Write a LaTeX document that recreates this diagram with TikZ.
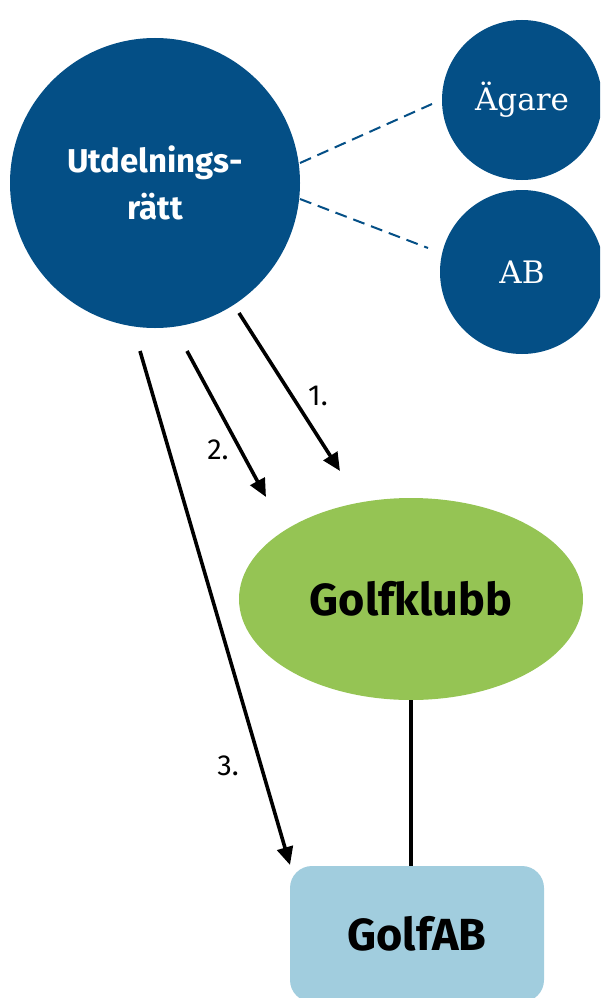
\documentclass[tikz,border=0pt]{standalone}
\usepackage{fontspec}
\setmainfont{Fira Sans}
\newfontfamily\slab{DejaVu Serif}
\usetikzlibrary{arrows.meta,shapes.geometric}
\definecolor{dblue}{RGB}{4,79,134}
\definecolor{lgreen}{RGB}{149,196,84}
\definecolor{lblue}{RGB}{161,205,222}
\tikzset{
  bigcirc/.style={circle,fill=dblue,draw=none,minimum size=290pt,inner sep=0pt,text=white},
  smallcirc/.style={circle,fill=dblue,draw=none,inner sep=0pt,text=white,font=\slab\fontsize{31}{34}\selectfont},
  dashlink/.style={draw=dblue,line width=2pt,dash pattern=on 12pt off 7pt},
  arrowlink/.style={draw=black,line width=3.6pt,-{Triangle[length=18pt,width=16pt]}},
  plainlink/.style={draw=black,line width=3.6pt},
  numlabel/.style={font=\fontsize{29}{32}\selectfont,inner sep=0pt},
  boldtext/.style={font=\bfseries\fontsize{45}{50}\selectfont}
}
\begin{document}
\begin{tikzpicture}[x=1pt,y=-1pt]
\useasboundingbox (0,0) rectangle (600,998);
\clip (0,0) rectangle (600,998);
\node[bigcirc,align=center,font=\bfseries\fontsize{33}{47}\selectfont] (U) at (155,183) {Utdelnings-\\rätt};
\node[smallcirc,minimum size=160pt] (A) at (522,100) {Ägare};
\node[smallcirc,minimum size=164pt] (B) at (522,272) {AB};
\node[ellipse,fill=lgreen,draw=none,minimum width=344pt,minimum height=202pt,inner sep=0pt,boldtext] (G) at (411,599) {Golfklubb};
\node[rectangle,rounded corners=22pt,fill=lblue,draw=none,minimum width=254pt,minimum height=136pt,inner sep=0pt,boldtext] (F) at (417,934) {GolfAB};
% dashed links
\coordinate (d1s) at (300,163);
\coordinate (d1e) at (432,104);
\coordinate (d2s) at (300,199);
\coordinate (d2e) at (428,248);
\draw[dashlink] (d1s) -- (d1e);
\draw[dashlink] (d2s) -- (d2e);
% arrows
\coordinate (a1s) at (239,313);
\coordinate (a1e) at (340,471);
\coordinate (a2s) at (187,351);
\coordinate (a2e) at (266,497);
\coordinate (a3s) at (140,351);
\coordinate (a3e) at (290,865);
\draw[arrowlink] (a1s) -- (a1e);
\draw[arrowlink] (a2s) -- (a2e);
\draw[arrowlink] (a3s) -- (a3e);
\node[numlabel] (l1) at (318,396) {1.};
\node[numlabel] (l2) at (218,450) {2.};
\node[numlabel] (l3) at (228,766) {3.};
\draw[plainlink] (G.south) -- (F.north -| G.south);
\end{tikzpicture}
\end{document}
